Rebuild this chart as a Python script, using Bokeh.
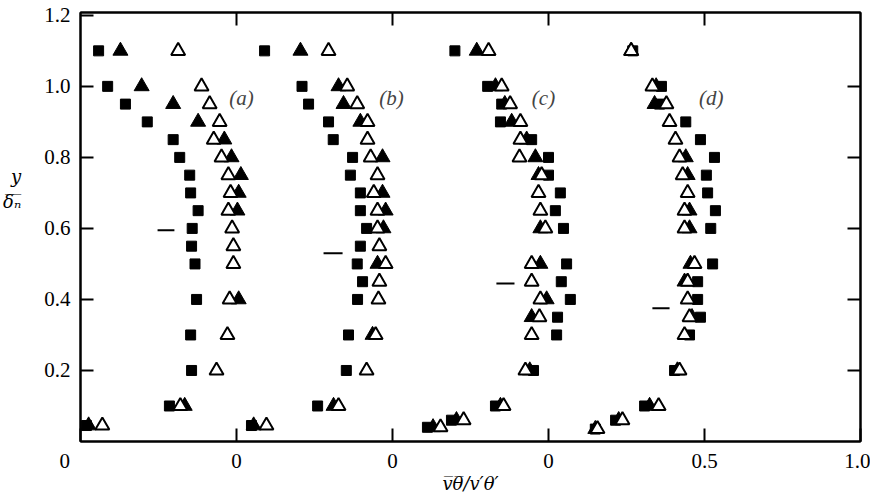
from bokeh.plotting import figure
from bokeh.models import FixedTicker, LinearAxis, Label, Range1d
from bokeh.embed import file_html
from bokeh.resources import INLINE

# profile offsets along the shared x axis (each profile shifted by 0.5)
offsets = [0.0, 0.5, 1.0, 1.5]
panel_labels = ["(a)", "(b)", "(c)", "(d)"]

# ---- profile (a) ----
a_sq_y = [1.1, 1.0, 0.95, 0.9, 0.85, 0.8, 0.75, 0.7, 0.65, 0.6, 0.55, 0.5, 0.4, 0.3, 0.2, 0.1, 0.045]
a_sq_x = [0.058, 0.087, 0.144, 0.214, 0.297, 0.318, 0.35, 0.353, 0.377, 0.358, 0.356, 0.367, 0.372, 0.353, 0.356, 0.285, 0.019]
a_ft_y = [1.1, 1.0, 0.95, 0.9, 0.85, 0.8, 0.75, 0.7, 0.65, 0.4, 0.1, 0.045]
a_ft_x = [0.128, 0.196, 0.297, 0.377, 0.461, 0.484, 0.514, 0.507, 0.503, 0.507, 0.334, 0.026]
a_ot_y = [1.1, 1.0, 0.95, 0.9, 0.85, 0.8, 0.75, 0.7, 0.65, 0.6, 0.55, 0.5, 0.4, 0.3, 0.2, 0.1, 0.045]
a_ot_x = [0.313, 0.388, 0.414, 0.446, 0.427, 0.452, 0.474, 0.481, 0.474, 0.486, 0.49, 0.49, 0.478, 0.471, 0.436, 0.32, 0.07]

# ---- profile (b) ----
b_sq_y = [1.1, 1.0, 0.95, 0.9, 0.85, 0.8, 0.75, 0.7, 0.65, 0.6, 0.55, 0.5, 0.45, 0.4, 0.3, 0.2, 0.1, 0.045]
b_sq_x = [0.09, 0.21, 0.231, 0.295, 0.31, 0.372, 0.365, 0.397, 0.397, 0.417, 0.397, 0.387, 0.404, 0.388, 0.359, 0.352, 0.26, 0.048]
b_ft_y = [1.1, 1.0, 0.95, 0.9, 0.8, 0.7, 0.65, 0.6, 0.5, 0.3, 0.1, 0.045]
b_ft_x = [0.205, 0.327, 0.343, 0.397, 0.468, 0.468, 0.478, 0.471, 0.452, 0.436, 0.311, 0.055]
b_ot_y = [1.1, 1.0, 0.95, 0.9, 0.85, 0.8, 0.75, 0.7, 0.65, 0.6, 0.55, 0.5, 0.45, 0.4, 0.3, 0.2, 0.1, 0.045]
b_ot_x = [0.295, 0.355, 0.387, 0.42, 0.42, 0.43, 0.452, 0.44, 0.452, 0.452, 0.458, 0.478, 0.458, 0.455, 0.446, 0.417, 0.327, 0.096]

# ---- profile (c) ----
c_sq_y = [1.1, 1.0, 0.95, 0.9, 0.85, 0.8, 0.75, 0.7, 0.65, 0.6, 0.5, 0.45, 0.4, 0.35, 0.3, 0.2, 0.1, 0.06, 0.04]
c_sq_x = [0.2, 0.305, 0.35, 0.346, 0.446, 0.5, 0.5, 0.538, 0.522, 0.548, 0.558, 0.541, 0.57, 0.529, 0.526, 0.452, 0.33, 0.189, 0.112]
c_ft_y = [1.1, 1.0, 0.95, 0.9, 0.85, 0.8, 0.75, 0.6, 0.5, 0.4, 0.35, 0.2, 0.1, 0.06, 0.04]
c_ft_x = [0.27, 0.33, 0.36, 0.382, 0.43, 0.458, 0.468, 0.474, 0.474, 0.494, 0.446, 0.44, 0.346, 0.205, 0.13]
c_ot_y = [1.1, 1.0, 0.95, 0.9, 0.85, 0.8, 0.75, 0.7, 0.65, 0.6, 0.5, 0.45, 0.4, 0.35, 0.3, 0.2, 0.1, 0.06, 0.04]
c_ot_x = [0.308, 0.35, 0.377, 0.41, 0.41, 0.407, 0.478, 0.468, 0.474, 0.49, 0.446, 0.446, 0.474, 0.471, 0.446, 0.426, 0.356, 0.228, 0.154]

# ---- profile (d) ----
d_sq_y = [1.1, 1.0, 0.95, 0.9, 0.85, 0.8, 0.75, 0.7, 0.65, 0.6, 0.5, 0.45, 0.4, 0.35, 0.3, 0.2, 0.1, 0.06, 0.035]
d_sq_x = [0.27, 0.362, 0.356, 0.44, 0.487, 0.532, 0.506, 0.51, 0.535, 0.52, 0.526, 0.478, 0.478, 0.487, 0.452, 0.404, 0.308, 0.215, 0.15]
d_ft_y = [1.1, 1.0, 0.95, 0.8, 0.75, 0.65, 0.6, 0.5, 0.45, 0.35, 0.2, 0.1, 0.06, 0.035]
d_ft_x = [0.265, 0.345, 0.34, 0.44, 0.446, 0.452, 0.452, 0.455, 0.436, 0.46, 0.413, 0.324, 0.225, 0.15]
d_ot_y = [1.1, 1.0, 0.95, 0.9, 0.85, 0.8, 0.75, 0.7, 0.65, 0.6, 0.5, 0.45, 0.4, 0.35, 0.3, 0.2, 0.1, 0.06, 0.035]
d_ot_x = [0.265, 0.333, 0.378, 0.388, 0.407, 0.42, 0.43, 0.446, 0.436, 0.436, 0.468, 0.446, 0.446, 0.452, 0.436, 0.42, 0.353, 0.237, 0.157]

# short horizontal marks in each profile
dash_y = [0.595, 0.53, 0.445, 0.375]
dash_x0 = [0.247, 0.279, 0.333, 0.333]
dash_x1 = [0.301, 0.34, 0.391, 0.388]

# axis ticks (first "0" padded so it sits a little left of the corner)
NB = "\u00a0"
x_ticks = [0.0, 0.5, 1.0, 1.5, 2.0, 2.5]
x_tick_labels = ["0" + NB * 6, "0", "0", "0", "0.5", "1.0"]
y_ticks = [0.2, 0.4, 0.6, 0.8, 1.0, 1.2]
y_tick_labels = ["0.2", "0.4", "0.6", "0.8", "1.0", "1.2"]

x_title = "v\u0305\u03b8\u0305/v\u2032\u03b8\u2032"
y_title = "y\n\u03b4\u0305\u2099\u0305\n\n\n"

profiles = [
    (a_sq_x, a_sq_y, a_ft_x, a_ft_y, a_ot_x, a_ot_y),
    (b_sq_x, b_sq_y, b_ft_x, b_ft_y, b_ot_x, b_ot_y),
    (c_sq_x, c_sq_y, c_ft_x, c_ft_y, c_ot_x, c_ot_y),
    (d_sq_x, d_sq_y, d_ft_x, d_ft_y, d_ot_x, d_ot_y),
]

SERIF = "Liberation Serif"
TITLE_FONT = "DejaVu Serif"

p = figure(frame_width=780, frame_height=429,
           x_range=Range1d(0, 2.5), y_range=Range1d(0, 1.208),
           output_backend="svg", toolbar_location=None,
           min_border_left=79, min_border_right=10,
           min_border_top=12, min_border_bottom=58,
           x_axis_location=None, y_axis_location=None)
p.grid.visible = False
p.outline_line_color = "black"
p.outline_line_width = 2
p.background_fill_color = "white"
p.border_fill_color = "white"


def style_axis(ax, ticks, labels, show_labels):
    ax.ticker = FixedTicker(ticks=ticks)
    ax.major_label_overrides = dict(zip(ticks, labels)) if show_labels else {t: "" for t in ticks}
    ax.minor_tick_line_color = None
    ax.major_tick_in = 13
    ax.major_tick_out = 0
    ax.major_tick_line_width = 2
    ax.major_tick_line_color = "black"
    ax.axis_line_width = 2
    ax.axis_line_color = "black"
    ax.major_label_text_font = SERIF
    ax.major_label_text_font_size = "21px"
    ax.major_label_text_color = "black"
    ax.axis_label_text_font = TITLE_FONT
    ax.axis_label_text_font_style = "italic"
    ax.axis_label_text_font_size = "18px"
    ax.axis_label_text_color = "black"
    if not show_labels:
        ax.major_label_text_font_size = "0px"
        ax.major_label_standoff = 0


bottom = LinearAxis()
style_axis(bottom, x_ticks, x_tick_labels, True)
bottom.major_label_standoff = 7
bottom.axis_label = x_title
bottom.axis_label_standoff = -3
p.add_layout(bottom, "below")

left = LinearAxis()
style_axis(left, y_ticks, y_tick_labels, True)
left.major_label_standoff = 10
left.axis_label = y_title
left.axis_label_orientation = "horizontal"
left.axis_label_standoff = 20
p.add_layout(left, "left")

top = LinearAxis()
style_axis(top, x_ticks[1:-1], x_tick_labels[1:-1], False)
p.add_layout(top, "above")

right = LinearAxis()
style_axis(right, y_ticks[:-1], y_tick_labels[:-1], False)
p.add_layout(right, "right")

for (sqx, sqy, ftx, fty, otx, oty), off in zip(profiles, offsets):
    p.scatter([v + off for v in sqx], sqy, marker="square", size=10,
              fill_color="black", line_color="black")
    p.scatter([v + off for v in ftx], fty, marker="triangle", size=15,
              fill_color="black", line_color="black")
    p.scatter([v + off for v in otx], oty, marker="triangle", size=14,
              fill_color="white", line_color="black", line_width=2)

p.segment([x0 + o for x0, o in zip(dash_x0, offsets)], dash_y,
          [x1 + o for x1, o in zip(dash_x1, offsets)], dash_y,
          line_color="black", line_width=2)

# panel letters
label_x = [0.516, 0.997, 1.484, 2.022]
for lx, txt in zip(label_x, panel_labels):
    p.add_layout(Label(x=lx, y=0.966, text=txt, text_font=SERIF,
                       text_font_style="italic", text_font_size="21px",
                       text_align="center", text_baseline="middle"))

open("out.html", "w").write(file_html(p, INLINE))
